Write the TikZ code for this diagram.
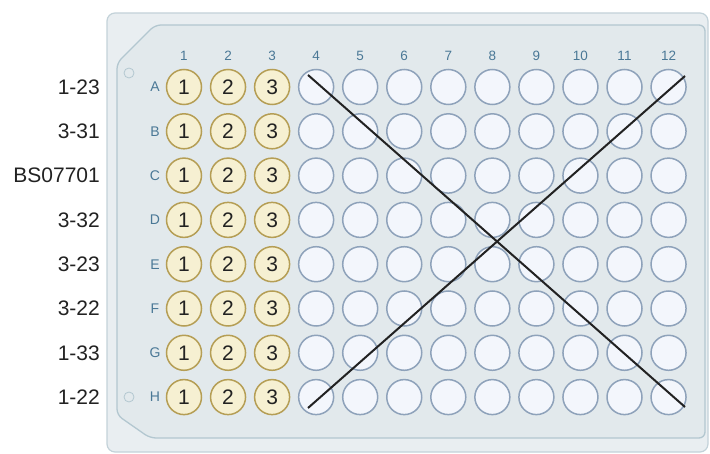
\documentclass[tikz,border=0pt]{standalone}
\usepackage{fontspec}
\setmainfont{Liberation Sans}
\definecolor{plateout}{HTML}{E9EEF1}
\definecolor{plateoutline}{HTML}{C3D2D9}
\definecolor{platein}{HTML}{E2E9EC}
\definecolor{plateinline}{HTML}{B3C7D0}
\definecolor{wellfill}{HTML}{F3F6FC}
\definecolor{welldraw}{HTML}{8EA2BA}
\definecolor{sampfill}{HTML}{F6F0D2}
\definecolor{sampdraw}{HTML}{B59E55}
\definecolor{labblue}{HTML}{4A7896}
\definecolor{txt}{HTML}{222222}
\tikzset{
  emptywell/.style={circle, minimum size=35pt, inner sep=0pt, fill=wellfill, draw=welldraw, line width=1.5pt},
  samplewell/.style={circle, minimum size=35pt, inner sep=0pt, fill=sampfill, draw=sampdraw, line width=1.5pt, text=txt, font=\fontsize{21}{21}\selectfont},
  collab/.style={text=labblue, font=\fontsize{13.5}{13.5}\selectfont, inner sep=0pt},
  rowlab/.style={text=labblue, font=\fontsize{14}{14}\selectfont, inner sep=0pt},
  samplab/.style={anchor=east, text=txt, font=\fontsize{21}{21}\selectfont, inner sep=0pt},
  holemark/.style={circle, minimum size=10pt, inner sep=0pt, draw=plateinline, line width=0.8pt},
  crossline/.style={draw=txt, line width=2pt}
}
\begin{document}
\begin{tikzpicture}[x=1pt,y=-1pt]
\useasboundingbox (0,0) rectangle (710,454);
% plate
\draw[fill=plateout, draw=plateoutline, line width=1.2pt, rounded corners=8pt] (107,13) rectangle (708,452);
\draw[fill=platein, draw=plateinline, line width=1.3pt, rounded corners=6pt]
  (155,25) -- (705,25) -- (705,438) -- (150,438) -- (117,415) -- (117,63) -- cycle;
\node[holemark] (hA) at (129,73) {};
\node[holemark] (hH) at (129,397) {};
% column labels
\foreach \c in {1,...,12} {
  \node[collab] (col\c) at ({184+44.05*(\c-1)},56) {\c};
}
% rows
\foreach \r [count=\i] in {A,B,C,D,E,F,G,H} {
  \pgfmathsetmacro{\yy}{87+44.3*(\i-1)}
  \node[rowlab] (row\r) at (155,\yy) {\r};
  \foreach \c in {1,2,3} {
    \node[samplewell] (w\r\c) at ({184+44.05*(\c-1)},\yy) {\c};
  }
  \foreach \c in {4,...,12} {
    \node[emptywell] (w\r\c) at ({184+44.05*(\c-1)},\yy) {};
  }
}
% sample labels
\node[samplab] (sA) at (100,87) {1-23};
\node[samplab] (sB) at (100,131.3) {3-31};
\node[samplab] (sC) at (100,175.6) {BS07701};
\node[samplab] (sD) at (100,219.9) {3-32};
\node[samplab] (sE) at (100,264.2) {3-23};
\node[samplab] (sF) at (100,308.5) {3-22};
\node[samplab] (sG) at (100,352.8) {1-33};
\node[samplab] (sH) at (100,397.1) {1-22};
% cross
\coordinate (c1) at (308,75);
\coordinate (c2) at (685,407);
\coordinate (c3) at (308,408);
\coordinate (c4) at (685,76);
\draw[crossline] (c1) -- (c2);
\draw[crossline] (c3) -- (c4);
\end{tikzpicture}
\end{document}
